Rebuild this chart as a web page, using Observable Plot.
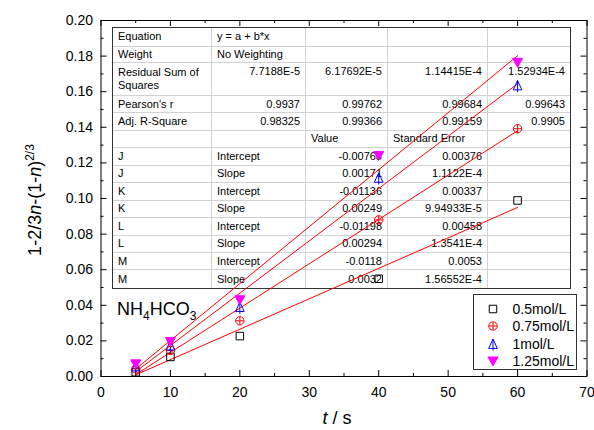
<!DOCTYPE html>
<html><head><meta charset="utf-8">
<script src="https://cdn.jsdelivr.net/npm/d3@7"></script>
<script src="https://cdn.jsdelivr.net/npm/@observablehq/plot@0.6"></script>
<style>
body{margin:0;background:#fff;}
#wrap{position:relative;width:594px;height:430px;overflow:hidden;font-family:"Liberation Sans",Arial,sans-serif;color:#000;}
#wrap svg.main{position:absolute;left:0;top:0;z-index:1;}
.cell{position:absolute;box-sizing:border-box;font-size:11px;line-height:13px;display:flex;align-items:center;padding:0 5px 0 5px;white-space:nowrap;}
.over{position:absolute;z-index:2;white-space:nowrap;}
</style></head><body><div id="wrap"></div><script>
// ---- data ----
const times = [5, 10, 20, 40, 60];
const seriesNames = ["0.5mol/L", "0.75mol/L", "1mol/L", "1.25mol/L"];
const v05  = [0.0024, 0.0110, 0.0227, 0.0549, 0.0989];
const v075 = [0.0043, 0.0146, 0.0313, 0.0880, 0.1392];
const v1   = [0.0056, 0.0174, 0.0390, 0.1116, 0.1635];
const v125 = [0.0071, 0.0197, 0.0431, 0.1242, 0.1765];
const seriesColors = ["#000000", "#ff0000", "#0000ff", "#ff00ff"];
const fitNames = ["J", "K", "L", "M"];
const intercepts = [-0.00763, -0.01136, -0.01198, -0.0118];
const slopes = [0.00171, 0.00249, 0.00294, 0.0032];
const fitRange = [5, 60];
const interceptTxt = ["-0.00763", "-0.01136", "-0.01198", "-0.0118"];
const slopeTxt = ["0.00171", "0.00249", "0.00294", "0.0032"];
const interceptSE = ["0.00376", "0.00337", "0.00458", "0.0053"];
const slopeSE = ["1.1122E-4", "9.94933E-5", "1.3541E-4", "1.56552E-4"];
const rssTxt = ["7.7188E-5", "6.17692E-5", "1.14415E-4", "1.52934E-4"];
const pearsonTxt = ["0.9937", "0.99762", "0.99684", "0.99643"];
const adjR2Txt = ["0.98325", "0.99366", "0.99159", "0.9905"];
const xTicks = [0, 10, 20, 30, 40, 50, 60, 70];
const xMinor = [5, 15, 25, 35, 45, 55, 65];
const yTicks = [0, 0.02, 0.04, 0.06, 0.08, 0.10, 0.12, 0.14, 0.16, 0.18, 0.20];
const yMinor = [0.01, 0.03, 0.05, 0.07, 0.09, 0.11, 0.13, 0.15, 0.17, 0.19];

// ---- symbols ----
const symSquare = {draw(c, size){ const r = Math.sqrt(size/Math.PI), h = r*0.94; c.moveTo(-h,-h); c.lineTo(h,-h); c.lineTo(h,h); c.lineTo(-h,h); c.closePath(); }};
const symCirclePlus = {draw(c, size){ const r = Math.sqrt(size/Math.PI)*1.05; c.moveTo(r,0); c.arc(0,0,r,0,2*Math.PI); c.moveTo(-r,0); c.lineTo(r,0); c.moveTo(0,-r); c.lineTo(0,r); }};
const symTriUp = {draw(c, size){ const k = Math.sqrt(size/Math.PI)/4; c.moveTo(0,-5*k); c.lineTo(4.3*k,4.4*k); c.lineTo(-4.3*k,4.4*k); c.closePath(); c.moveTo(0,-5*k); c.lineTo(0,6.7*k); }};
const symTriDown = {draw(c, size){ const k = Math.sqrt(size/Math.PI)/4; c.moveTo(-5*k,-4*k); c.lineTo(5*k,-4*k); c.lineTo(0,5*k); c.closePath(); }};
const seriesSyms = [symSquare, symCirclePlus, symTriUp, symTriDown];
const seriesFill = ["none", "none", "none", "#ff00ff"];
const seriesVals = [v05, v075, v1, v125];

const wrap = document.getElementById("wrap");

// ---- fit table (behind the plot) ----
const colW = [99, 94, 82, 100, 82];
const rowH = [18.7, 16.6, 32.7, 17.3, 17.4, 17.6, 17.45, 17.45, 17.45, 17.45, 17.45, 17.45, 17.45, 17.45];
const L = "l", R = "r";
const rows = [
  [["Equation",L],["y = a + b*x",L],["",L],["",L],["",L]],
  [["Weight",L],["No Weighting",L],["",L],["",L],["",L]],
  [["Residual Sum of<br>Squares",L], ...rssTxt.map(t=>[t,"rt"])],
  [["Pearson's r",L], ...pearsonTxt.map(t=>[t,R])],
  [["Adj. R-Square",L], ...adjR2Txt.map(t=>[t,R])],
  [["",L],["",L],["Value",L],["Standard Error",L],["",L]]
];
fitNames.forEach((n,i)=>{
  rows.push([[n,L],["Intercept",L],[interceptTxt[i],R],[interceptSE[i],R],["",L]]);
  rows.push([[n,L],["Slope",L],[slopeTxt[i],R],[slopeSE[i],R],["",L]]);
});
const tx0 = 113, ty0 = 28;
let yy = ty0;
rows.forEach((row, ri)=>{
  let xx = tx0;
  row.forEach((cell, ci)=>{
    const d = document.createElement("div");
    d.className = "cell";
    d.style.left = xx + "px"; d.style.top = yy + "px";
    d.style.width = colW[ci] + "px"; d.style.height = rowH[ri] + "px";
    if (ci < colW.length-1) d.style.borderRight = "1px solid #d2d2d2";
    if (ri < rows.length-1) d.style.borderBottom = "1px solid #d2d2d2";
    if (cell[1] === "r") d.style.justifyContent = "flex-end";
    if (cell[1] === "rt") { d.style.justifyContent = "flex-end"; d.style.alignItems = "flex-start"; d.style.paddingTop = "2px"; }
    d.innerHTML = cell[0];
    wrap.appendChild(d);
    xx += colW[ci];
  });
  yy += rowH[ri];
});
const tb = document.createElement("div");
tb.style.cssText = `position:absolute;left:${tx0-0.75}px;top:${ty0-0.75}px;width:${d3.sum(colW)+1.5}px;height:${d3.sum(rowH)+1.5}px;border:1.5px solid #333;box-sizing:border-box;`;
wrap.appendChild(tb);

// ---- plot ----
const points = [];
seriesNames.forEach((s,i)=> times.forEach((t,j)=> points.push({t, v: seriesVals[i][j], s})));
const fitLines = [];
fitNames.forEach((n,i)=> fitRange.forEach(t=> fitLines.push({t, v: intercepts[i] + slopes[i]*t, n})));

const innerH = 430 - 20 - 54, innerW = 594 - 100.5 - 7.5;
const chart = Plot.plot({
  width: 594, height: 430,
  marginLeft: 100.5, marginRight: 7.5, marginTop: 20, marginBottom: 54,
  style: {background: "transparent", fontFamily: "'Liberation Sans', Arial, sans-serif", fontSize: "14px", color: "#000", overflow: "visible"},
  x: {domain: [0, 70]},
  y: {domain: [0, 0.2]},
  marks: [
    Plot.axisX({ticks: xTicks, tickSize: 0, tickPadding: 11, tickFormat: d => String(d), label: null}),
    Plot.axisY({ticks: yTicks, tickSize: 0, tickPadding: 8, tickFormat: d => d.toFixed(2), label: null}),
    Plot.ruleX(xTicks, {x: d => d, insetTop: innerH - 6, stroke: "#000"}),
    Plot.ruleX(xMinor, {x: d => d, insetTop: innerH - 3, stroke: "#000"}),
    Plot.ruleX(xTicks, {x: d => d, insetBottom: innerH - 6, stroke: "#000"}),
    Plot.ruleX(xMinor, {x: d => d, insetBottom: innerH - 3, stroke: "#000"}),
    Plot.ruleY(yTicks, {y: d => d, insetRight: innerW - 6, stroke: "#000"}),
    Plot.ruleY(yMinor, {y: d => d, insetRight: innerW - 3, stroke: "#000"}),
    Plot.ruleY(yTicks, {y: d => d, insetLeft: innerW - 6, stroke: "#000"}),
    Plot.ruleY(yMinor, {y: d => d, insetLeft: innerW - 3, stroke: "#000"}),
    Plot.frame({stroke: "#000", strokeWidth: 1}),
    Plot.line(fitLines, {x: "t", y: "v", z: "n", stroke: "#ff0000", strokeWidth: 1}),
    ...seriesNames.map((s,i)=> Plot.dot(points.filter(p => p.s === s), {x: "t", y: "v", r: 4, symbol: seriesSyms[i], stroke: seriesColors[i], fill: seriesFill[i], strokeWidth: 1}))
  ]
});
chart.classList.add("main");
wrap.appendChild(chart);

// ---- legend ----
const lg = document.createElement("div");
lg.className = "over";
lg.style.cssText += "left:472.5px;top:294px;width:104px;height:76px;border:1px solid #333;box-sizing:border-box;background:#fff;";
seriesNames.forEach((s,i)=>{
  const cy = 15 + i*17.3;
  const p = d3.path(); seriesSyms[i].draw(p, 16*Math.PI);
  const ic = document.createElementNS("http://www.w3.org/2000/svg","svg");
  ic.setAttribute("width", 16); ic.setAttribute("height", 16);
  ic.style.cssText = `position:absolute;left:${20.5-8-1}px;top:${cy-8-1}px;overflow:visible;`;
  ic.innerHTML = `<path transform="translate(8,8)" d="${p.toString()}" fill="${seriesFill[i]}" stroke="${seriesColors[i]}" stroke-width="1"/>`;
  lg.appendChild(ic);
  const t = document.createElement("div");
  t.style.cssText = `position:absolute;left:39px;top:${cy-8-1}px;font-size:14px;line-height:16px;`;
  t.textContent = s;
  lg.appendChild(t);
});
wrap.appendChild(lg);

// ---- annotation ----
const nh = document.createElement("div");
nh.className = "over";
nh.style.cssText += "left:117px;top:299.8px;font-size:18px;line-height:18px;";
nh.innerHTML = 'NH<span style="font-size:12px;position:relative;top:5px">4</span>HCO<span style="font-size:12px;position:relative;top:5px">3</span>';
wrap.appendChild(nh);

// ---- axis titles ----
const xl = document.createElement("div");
xl.className = "over";
xl.style.cssText += "left:337px;top:408px;font-size:18px;line-height:20px;transform:translateX(-50%);";
xl.innerHTML = '<i>t</i> / s';
wrap.appendChild(xl);

const yl = document.createElement("div");
yl.className = "over";
yl.style.cssText += "left:36px;top:200px;font-size:18px;line-height:18px;transform:translate(-50%,-50%) rotate(-90deg);";
yl.innerHTML = '1-2/3<i>n</i>-(1-<i>n</i>)<span style="font-size:12px;position:relative;top:-7px">2/3</span>';
wrap.appendChild(yl);
</script></body></html>
